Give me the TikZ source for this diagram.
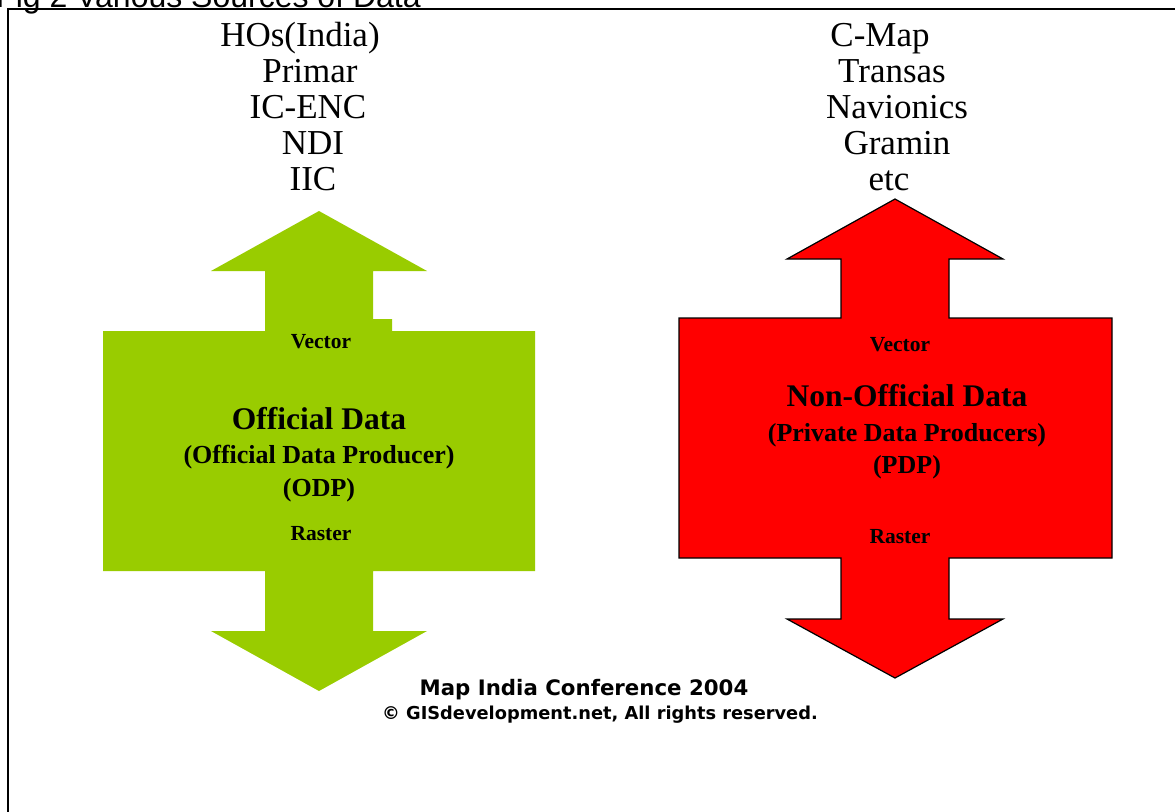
\documentclass[tikz,border=0pt]{standalone}
\usepackage{fontspec}
\setmainfont{Liberation Serif}
\newfontfamily\arialf{Liberation Sans}
\newfontfamily\verdf{DejaVu Sans}
\definecolor{offgreen}{HTML}{99CC00}
\definecolor{offred}{HTML}{FF0000}
\tikzset{
  src/.style={font=\fontsize{35}{36}\selectfont, inner sep=0pt, anchor=base},
  lbl/.style={font=\fontsize{21.5}{22}\selectfont\bfseries, inner sep=0pt, anchor=base},
  bigt/.style={font=\fontsize{31.5}{32}\selectfont\bfseries, inner sep=0pt, anchor=base},
  midt/.style={font=\fontsize{26}{26}\selectfont\bfseries, inner sep=0pt, anchor=base},
  foot/.style={font=\verdf\fontsize{21.3}{22}\selectfont\bfseries, inner sep=0pt, anchor=base},
}
\begin{document}
\begin{tikzpicture}[x=1pt,y=-1pt]
\clip (0,0) rectangle (1175,811);
\fill[white] (0,0) rectangle (1175,811);
% frame
\draw[line width=1.5pt] (8,820) -- (8,9) -- (1185,9);
% title
\node[font=\arialf\fontsize{32}{34}\selectfont, inner sep=0pt, anchor=base west] (title) at (-4,7) {Fig 2 Various Sources of Data};
% green shape
\fill[offgreen] (319,211) -- (427,271) -- (373,271) -- (373,319) -- (392,319) -- (392,331)
  -- (535,331) -- (535,571) -- (373,571) -- (373,631) -- (427,631) -- (319,691)
  -- (211,631) -- (265,631) -- (265,571) -- (103,571) -- (103,331) -- (265,331)
  -- (265,271) -- (211,271) -- cycle;
% red shape
\filldraw[fill=offred, draw=black, line width=1.2pt] (895,199) -- (1003,259) -- (949,259) -- (949,318)
  -- (1112,318) -- (1112,558) -- (949,558) -- (949,619) -- (1003,619) -- (895,678)
  -- (787,619) -- (841,619) -- (841,558) -- (679,558) -- (679,318) -- (841,318)
  -- (841,259) -- (787,259) -- cycle;
% left sources
\node[src] (l1) at (300,46) {HOs(India)};
\node[src] (l2) at (310,82) {Primar};
\node[src] (l3) at (308,118) {IC-ENC};
\node[src] (l4) at (313,154) {NDI};
\node[src] (l5) at (313,190) {IIC};
% right sources
\node[src] (r1) at (880,46) {C-Map};
\node[src] (r2) at (892,82) {Transas};
\node[src] (r3) at (897,118) {Navionics};
\node[src] (r4) at (897,154) {Gramin};
\node[src] (r5) at (889,190) {etc};
% green labels
\node[lbl] (gv) at (321,348) {Vector};
\node[bigt] (gt) at (319,429) {Official Data};
\node[midt] (gs) at (319,463) {(Official Data Producer)};
\node[midt] (gp) at (319,496) {(ODP)};
\node[lbl] (gr) at (321,540) {Raster};
% red labels
\node[lbl] (rv) at (900,351) {Vector};
\node[bigt] (rt) at (907,406) {Non-Official Data};
\node[midt] (rs) at (907,441) {(Private Data Producers)};
\node[midt] (rp) at (907,473) {(PDP)};
\node[lbl] (rr) at (900,543) {Raster};
% footer
\node[foot] (f1) at (584,695) {Map India Conference 2004};
\node[foot, font=\verdf\fontsize{17.8}{20}\selectfont\bfseries] (f2) at (600,719) {© GISdevelopment.net, All rights reserved.};
\end{tikzpicture}
\end{document}
